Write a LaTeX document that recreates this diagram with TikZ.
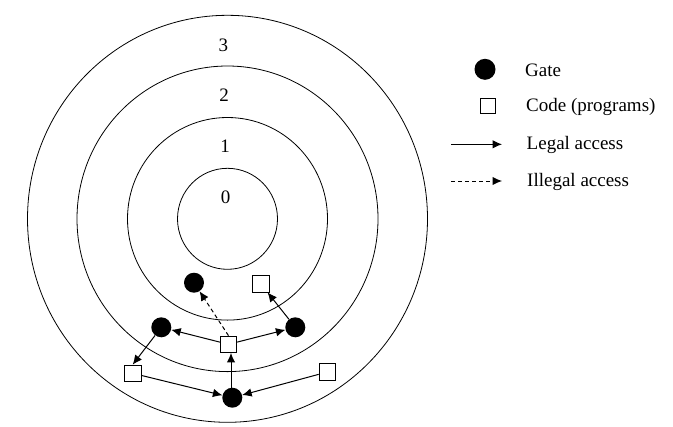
\documentclass[tikz,border=0pt]{standalone}
\usepackage{fontspec}
\setmainfont{Liberation Serif}
\usetikzlibrary{arrows.meta,positioning}

\tikzset{
    gate/.style={circle, fill=black, minimum size=20bp, inner sep=0pt},
    code/.style={rectangle, draw, fill=white, line width=0.8bp, minimum size=16.5bp, inner sep=0pt},
    ring/.style={line width=0.8bp},
    access/.style={-{Latex[length=9.5bp,width=8.5bp]}, line width=1bp},
    illegal/.style={access, dash pattern=on 4bp off 3bp},
    txt/.style={font=\fontsize{19bp}{22bp}\selectfont, inner sep=0pt}
}

\begin{document}
\begin{tikzpicture}[x=1bp, y=-1bp]
    \useasboundingbox (0,0) rectangle (673,426);
    % rings
    \coordinate (C) at (227.5,218.8);
    \draw[ring] (C) ellipse [x radius=50, y radius=50.5];
    \draw[ring] (C) ellipse [x radius=100, y radius=101.3];
    \draw[ring] (C) ellipse [x radius=150.5, y radius=152.8];
    \draw[ring] (C) ellipse [x radius=200, y radius=203.5];
    \node[txt] (ring0) at (225.5,197) {0};
    \node[txt] (ring1) at (225,146) {1};
    \node[txt] (ring2) at (224,95) {2};
    \node[txt] (ring3) at (223.3,45) {3};

    % gates and code
    \node[gate] (gate1) at (194,282.7) {};
    \node[code] (code1) at (260.7,283.7) {};
    \node[gate] (gate2l) at (161.3,327.3) {};
    \node[gate] (gate2r) at (295.3,327.3) {};
    \node[code] (code2) at (228.5,344.3) {};
    \node[code] (code3l) at (132.7,373.3) {};
    \node[code] (code3r) at (327.3,372) {};
    \node[gate] (gate3) at (232.3,397.7) {};

    % accesses
    \draw[access] (code2) -- (gate2l);
    \draw[access] (code2) -- (gate2r);
    \draw[illegal] (code2.north) -- (gate1);
    \draw[access] (gate2r) -- (code1);
    \draw[access] (gate2l) -- (code3l.north);
    \draw[access] (code3l) -- (gate3);
    \draw[access] (code3r) -- (gate3);
    \draw[access] (gate3.north -| 231,0) -- (code2.south -| 231,0);

    % legend
    \node[gate, minimum size=21bp] (keygate) at (485,69.3) {};
    \node[txt, anchor=west] (keygatetxt) at (525,70) {Gate};
    \node[code, minimum size=15bp] (keycode) at (487.5,106) {};
    \node[txt, anchor=west] (keycodetxt) at (526,106.5) {Code (programs)};
    \coordinate (legalA) at (451,144.3);
    \coordinate (legalB) at (502,144.3);
    \draw[access] (legalA) -- (legalB);
    \node[txt, anchor=west] (legaltxt) at (526.5,144.5) {Legal access};
    \coordinate (illegalA) at (451,181);
    \coordinate (illegalB) at (502,181);
    \draw[illegal] (illegalA) -- (illegalB);
    \node[txt, anchor=west] (illegaltxt) at (527,182) {Illegal access};
\end{tikzpicture}
\end{document}
